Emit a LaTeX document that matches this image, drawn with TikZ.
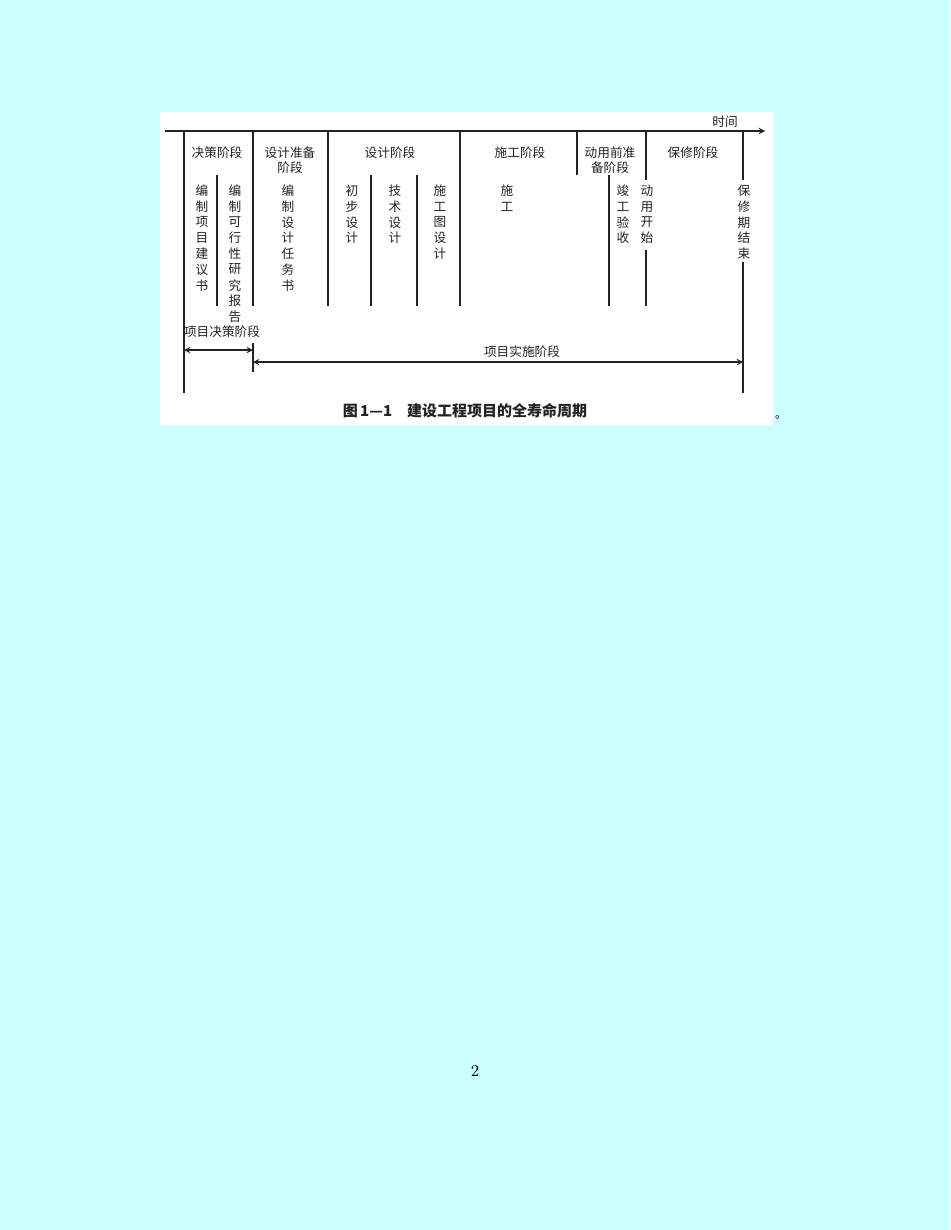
\documentclass[tikz,border=0pt]{standalone}
\usepackage{fontspec}
\newfontfamily\cjk{Noto Sans CJK SC}
\definecolor{pagebg}{HTML}{CCFFFF}
\definecolor{ink}{HTML}{222222}
\tikzset{
	lab/.style={font=\cjk\fontsize{7.6}{9}\selectfont, inner sep=0pt, text=ink},
	rule/.style={line width=0.7pt, draw=ink},
}
% one character per line, top to bottom
\newcommand\vlab[3]{\foreach \c [count=\i] in {#3} \node[lab] (#1-\i) at (#2,{191+(\i-1)*15.7}) {\c};}
\begin{document}
\begin{tikzpicture}[x=0.6pt,y=-0.6pt]
	\def\top{131};
	\def\low{306};
	\fill[pagebg] (0,0) rectangle (950,1230);
	\useasboundingbox (0,0) rectangle (950,1230);
	\fill[white] (160,112) rectangle (773,425);
	% time axis
	\coordinate (t0) at (165,\top);
	\coordinate (t1) at (765,\top);
	\draw[rule,-stealth] (t0) -- (t1);
	\node[lab] (time) at (725,122) {时间};
	% stage borders
	\draw[rule] (184,\top) -- (184,393);
	\draw[rule] (253,\top) -- (253,\low);
	\draw[rule] (328,\top) -- (328,\low);
	\draw[rule] (460,\top) -- (460,\low);
	\draw[rule] (577,\top) -- (577,175);
	\draw[rule] (646,\top) -- (646,180);
	\draw[rule] (646,250) -- (646,\low);
	\draw[rule] (743,\top) -- (743,180);
	\draw[rule] (743,262) -- (743,393);
	% task borders
	\foreach \x in {217,371,417,609}
		\draw[rule] (\x,175) -- (\x,\low);
	% stage names
	\node[lab] (s1) at (217,153) {决策阶段};
	\node[lab,align=center] (s2) at (290,160) {设计准备\\阶段};
	\node[lab] (s3) at (390,153) {设计阶段};
	\node[lab] (s4) at (520,153) {施工阶段};
	\node[lab,align=center] (s5) at (610,160) {动用前准\\备阶段};
	\node[lab] (s6) at (693,153) {保修阶段};
	% tasks
	\vlab{a}{202}{编,制,项,目,建,议,书}
	\vlab{b}{235}{编,制,可,行,性,研,究,报,告}
	\vlab{c}{288}{编,制,设,计,任,务,书}
	\vlab{d}{352}{初,步,设,计}
	\vlab{e}{395}{技,术,设,计}
	\vlab{f}{440}{施,工,图,设,计}
	\vlab{g}{507}{施,工}
	\vlab{h}{623}{竣,工,验,收}
	\vlab{k}{647}{动,用,开,始}
	\vlab{m}{744}{保,修,期,结,束}
	% project phases
	\coordinate (p0) at (184,350);
	\coordinate (p1) at (253,350);
	\coordinate (q0) at (253,362);
	\coordinate (q1) at (743,362);
	\draw[rule] (253,343) -- (253,372);
	\draw[rule,stealth-stealth] (p0) -- (p1);
	\draw[rule,stealth-stealth] (q0) -- (q1);
	\node[lab] (ph1) at (222,332) {项目决策阶段};
	\node[lab] (ph2) at (522,352) {项目实施阶段};
	% caption
	\node[lab,font=\cjk\bfseries\fontsize{9}{10}\selectfont] (cap) at (465,411) {图\,1—1\quad 建设工程项目的全寿命周期};
	\node[lab,font=\cjk\fontsize{7}{8}\selectfont] (dot) at (781,417) {。};
	\node[inner sep=0pt,font=\fontsize{10}{12}\selectfont] (pg) at (475,1071) {2};
\end{tikzpicture}
\end{document}
